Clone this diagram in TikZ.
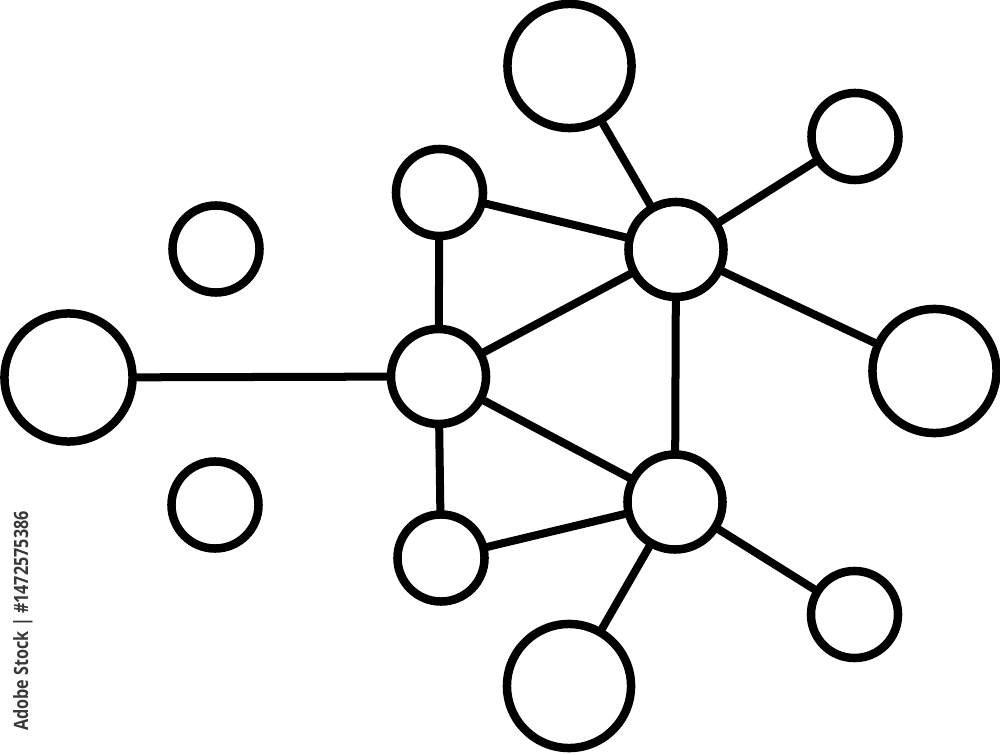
\documentclass[tikz,border=0pt]{standalone}
\usepackage{fontspec}
\newfontfamily\wmfont{Open Sans}
\begin{document}
\begin{tikzpicture}[x=0.01cm,y=-0.01cm,
  nd/.style={circle,draw=black,line width=0.085cm,fill=white,inner sep=0pt,minimum size=#1},
  big/.style={nd=1.24cm},
  hub/.style={nd=0.95cm},
  small/.style={nd=0.87cm},
  link/.style={line width=0.08cm,line cap=round}]
\useasboundingbox (0,0) rectangle (1000,755);
% nodes
\node[big] (topbig) at (569.5,66) {};
\node[small] (tr) at (855,136.5) {};
\node[hub] (ha) at (676,249.5) {};
\node[big] (rbig) at (934.5,371) {};
\node[hub] (hb) at (675,502) {};
\node[small] (br) at (854.5,614.5) {};
\node[big] (botbig) at (569,686) {};
\node[small] (ms) at (441,558) {};
\node[hub] (c) at (438.5,376.5) {};
\node[small] (mt) at (439.5,192.5) {};
\node[nd=1.28cm] (lbig) at (68.5,377.5) {};
\node[small] (lt) at (216,249) {};
\node[small] (lb) at (215,505) {};
% connectors
\draw[link] (mt) -- (ha);
\draw[link] (mt) -- (c);
\draw[link] (c) -- (ha);
\draw[link] (c) -- (lbig);
\draw[link] (c) -- (ms);
\draw[link] (c) -- (hb);
\draw[link] (ha) -- (hb);
\draw[link] (ha) -- (topbig);
\draw[link] (ha) -- (tr);
\draw[link] (ha) -- (rbig);
\draw[link] (hb) -- (ms);
\draw[link] (hb) -- (br);
\draw[link] (hb) -- (botbig);
% watermark text
\node[rotate=90,xscale=0.82,text=black!78,inner sep=0pt,font=\wmfont\bfseries\fontsize{5.6pt}{6pt}\selectfont] (wm) at (23,621) {Adobe Stock | \#1472575386};
\end{tikzpicture}
\end{document}
